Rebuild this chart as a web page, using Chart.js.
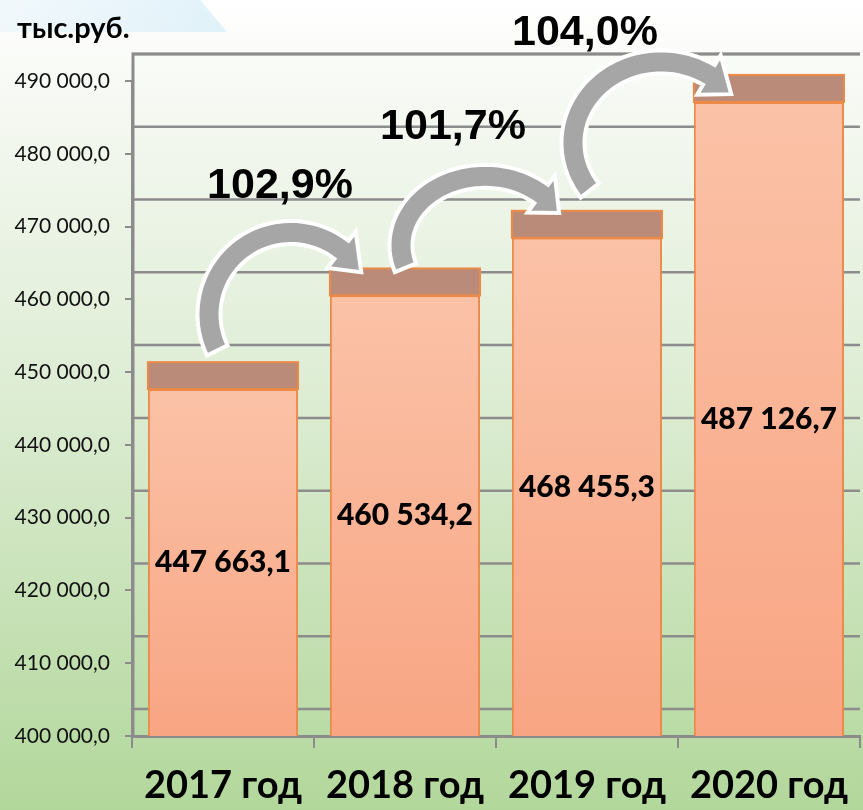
<!DOCTYPE html>
<html>
<head>
<meta charset="utf-8">
<script src="https://cdn.jsdelivr.net/npm/chart.js@4"></script>
<style>
  html, body { margin: 0; padding: 0; background: #fff; }
  canvas { display: block; }
</style>
</head>
<body>
<canvas id="chart" width="863" height="810"></canvas>
<script>
const categories = ['2017 год', '2018 год', '2019 год', '2020 год'];
const values = [447663.1, 460534.2, 468455.3, 487126.7];
const growthLabels = ['102,9%', '101,7%', '104,0%'];
const yMin = 400000;
const yMax = 490000;
const yStep = 10000;
const unitLabel = 'тыс.руб.';

const depth = 27;            // 3d top face / back wall shift
const gridColor = '#8c8c8c';

// arrow shapes, relative to the boundary between two bars and the top of the next bar
const arrowShapes = [
  {dx: -23, dy: 19,  rx: 82, ry: 82, a0: 154, a1: 308, tip: 329, lx: -11, ly: -128},
  {dx: -11, dy: 7.5, rx: 84, ry: 69, a0: 161, a1: 312, tip: 332, lx: -32, ly: -118},
  {dx: -17, dy: 41,  rx: 88, ry: 81, a0: 144, a1: 303, tip: 323, lx: -76, ly: -110}
];

function fmt(v) {
  const parts = v.toFixed(1).split('.');
  return parts[0].replace(/\B(?=(\d{3})+(?!\d))/g, ' ') + ',' + parts[1];
}

const decor = {
  id: 'decor',
  beforeDraw(chart) {
    const c = chart.ctx;
    const g = c.createLinearGradient(0, 0, 0, chart.height);
    g.addColorStop(0, '#ffffff');
    g.addColorStop(0.12, '#f6f9f3');
    g.addColorStop(0.5, '#dcecd2');
    g.addColorStop(1, '#b2d79b');
    c.save();
    c.fillStyle = g;
    c.fillRect(0, 0, chart.width, chart.height);
    // light blue shape top-left
    const b = c.createLinearGradient(0, 0, 230, 0);
    b.addColorStop(0, 'rgba(220,239,248,0.4)');
    b.addColorStop(1, 'rgba(212,236,248,0.7)');
    c.fillStyle = b;
    c.beginPath();
    c.moveTo(0, 0); c.lineTo(200, 0); c.lineTo(227, 32); c.lineTo(0, 32);
    c.closePath();
    c.fill();
    c.restore();
  },
  beforeDatasetsDraw(chart) {
    const c = chart.ctx;
    const y = chart.scales.y;
    const a = chart.chartArea;
    c.save();
    c.strokeStyle = gridColor;
    c.lineWidth = 2.5;
    for (let v = yMin; v <= yMax; v += yStep) {
      const py = y.getPixelForValue(v) - depth;
      c.beginPath();
      c.moveTo(a.left, py);
      c.lineTo(a.right, py);
      c.stroke();
    }
    c.lineWidth = 3;
    c.beginPath();
    c.moveTo(a.left + 1, a.bottom);
    c.lineTo(a.left + 1, y.getPixelForValue(yMax) - depth);
    c.lineTo(a.right, y.getPixelForValue(yMax) - depth);
    c.stroke();
    c.restore();
  },
  afterDatasetsDraw(chart) {
    const c = chart.ctx;
    const meta = chart.getDatasetMeta(0);
    const ys = chart.scales.y;
    const base = ys.getPixelForValue(yMin);
    c.save();
    // top faces and value labels
    meta.data.forEach((bar, i) => {
      const w = bar.width;
      const top = ys.getPixelForValue(values[i]);
      c.fillStyle = '#b98b78';
      c.strokeStyle = '#ee8a48';
      c.lineWidth = 2;
      c.fillRect(bar.x - w / 2, top - depth, w, depth);
      c.strokeRect(bar.x - w / 2, top - depth, w, depth);
      c.fillStyle = '#000';
      c.font = '900 30px Lato';
      c.textAlign = 'center';
      c.textBaseline = 'middle';
      c.fillText(fmt(values[i]), bar.x, (top + base) / 2);
    });
    // arrows
    const xs = chart.scales.x;
    arrowShapes.forEach((s, i) => {
      const bx = xs.getPixelForValue(i + 0.5);
      const cx = bx + s.dx;
      const cy = ys.getPixelForValue(values[i + 1]) + s.dy;
      const hw = 11.5, hh = 23;
      const pt = (deg, off) => {
        const t = deg * Math.PI / 180;
        let nx = Math.cos(t) / s.rx, ny = Math.sin(t) / s.ry;
        const n = Math.hypot(nx, ny);
        nx /= n; ny /= n;
        return [cx + s.rx * Math.cos(t) + nx * off, cy + s.ry * Math.sin(t) + ny * off];
      };
      c.beginPath();
      const steps = 40;
      for (let k = 0; k <= steps; k++) {
        const p = pt(s.a0 + (s.a1 - s.a0) * k / steps, hw);
        k === 0 ? c.moveTo(p[0], p[1]) : c.lineTo(p[0], p[1]);
      }
      let p = pt(s.a1, hh); c.lineTo(p[0], p[1]);
      p = pt(s.tip, 0); c.lineTo(p[0], p[1]);
      p = pt(s.a1, -hh); c.lineTo(p[0], p[1]);
      for (let k = steps; k >= 0; k--) {
        p = pt(s.a0 + (s.a1 - s.a0) * k / steps, -hw);
        c.lineTo(p[0], p[1]);
      }
      c.closePath();
      c.fillStyle = '#a6a6a6';
      c.fill();
      c.strokeStyle = '#ffffff';
      c.lineWidth = 4;
      c.lineJoin = 'miter';
      c.stroke();
      // growth label
      c.fillStyle = '#000';
      c.font = 'bold 43px "Liberation Sans"';
      c.textAlign = 'center';
      c.textBaseline = 'middle';
      c.fillText(growthLabels[i], cx + s.lx, cy + s.ly);
    });
    c.restore();
  },
  afterDraw(chart) {
    const c = chart.ctx;
    c.save();
    c.fillStyle = '#000';
    c.font = 'bold 29px Lato';
    c.textAlign = 'left';
    c.textBaseline = 'middle';
    c.fillText(unitLabel, 17, 29);
    c.restore();
  }
};

new Chart(document.getElementById('chart').getContext('2d'), {
  type: 'bar',
  data: {
    labels: categories,
    datasets: [{
      data: values,
      backgroundColor(ctx) {
        const chart = ctx.chart;
        const y = chart.scales && chart.scales.y;
        if (!y || ctx.dataIndex === undefined || !chart.chartArea) return '#f9b393';
        const top = y.getPixelForValue(values[ctx.dataIndex]);
        const g = chart.ctx.createLinearGradient(0, top, 0, y.getPixelForValue(yMin));
        g.addColorStop(0, '#fbc2a7');
        g.addColorStop(1, '#f8a583');
        return g;
      },
      borderColor: '#ee8a48',
      borderWidth: 2,
      borderSkipped: false,
      barPercentage: 0.825,
      categoryPercentage: 1
    }]
  },
  options: {
    responsive: false,
    animation: false,
    layout: {padding: {top: 81, left: 0, right: 0, bottom: 0}},
    plugins: {legend: {display: false}, tooltip: {enabled: false}},
    scales: {
      x: {
        grid: {offset: true, drawOnChartArea: false, drawTicks: true, tickLength: 12, color: gridColor, lineWidth: 2},
        border: {color: gridColor, width: 3},
        ticks: {color: '#000', font: {family: 'Lato', size: 38, weight: 'bold'}, padding: 15, maxRotation: 0},
        afterFit(s) { s.height = 74; }
      },
      y: {
        min: yMin,
        max: yMax,
        grid: {drawOnChartArea: false, drawTicks: true, tickLength: 7, color: gridColor, lineWidth: 2},
        border: {color: gridColor, width: 3},
        ticks: {stepSize: yStep, color: '#111', font: {family: 'Lato', size: 21}, padding: 15, callback: v => fmt(v)},
        afterFit(s) { s.width = 132; }
      }
    }
  },
  plugins: [decor]
});
</script>
</body>
</html>
